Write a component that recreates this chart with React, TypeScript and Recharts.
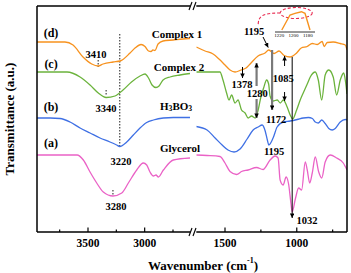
import { LineChart, Line, XAxis, YAxis, ReferenceLine, ReferenceDot } from 'recharts';

const FONT = '"Liberation Serif", "Times New Roman", serif';

const ORANGE = '#f7921e';
const GREEN = '#6bb33c';
const BLUE = '#3f70e4';
const PINK = '#ea62c6';

// [wavenumber cm-1, transmittance a.u. (curves offset)]
const complex1High: [number, number][] = [
  [3950, 190], [3703, 190], [3632, 187], [3544, 175], [3467, 168], [3410, 166], [3367, 168],
  [3279, 170], [3217, 171], [3129, 179], [3085, 184], [3032, 187.5], [2997, 185.5], [2966, 181],
  [2944, 180.5], [2927, 182], [2909, 181.5], [2882, 188], [2838, 191], [2750, 192], [2661, 193], [2600, 193.5],
];
const complex2High: [number, number][] = [
  [3950, 160], [3685, 160], [3570, 155], [3482, 147], [3409, 139], [3340, 134.5], [3262, 136],
  [3191, 142], [3116, 150], [3041, 156], [2997, 158], [2966, 154], [2935, 147], [2900, 144.5],
  [2873, 146], [2838, 152], [2776, 155], [2688, 157], [2600, 158.5],
];
const boricHigh: [number, number][] = [
  [3950, 114], [3835, 114], [3747, 113.5], [3659, 110], [3570, 104], [3482, 99], [3394, 94],
  [3306, 90], [3247, 87], [3220, 85.5], [3158, 90], [3100, 97], [3041, 104], [2982, 109.5],
  [2923, 112], [2835, 114], [2747, 114.5], [2600, 114.5],
];
const glycerolHigh: [number, number][] = [
  [3950, 77], [3597, 77], [3541, 72], [3482, 60], [3423, 49], [3365, 40], [3280, 36], [3202, 39],
  [3144, 49], [3070, 62], [3012, 69], [2982, 67], [2953, 60], [2923, 56], [2900, 57], [2879, 55],
  [2835, 62], [2747, 72], [2600, 74],
];

const complex1Low: [number, number][] = [
  [1700, 185], [1639, 181], [1583, 178], [1542, 173], [1500, 167], [1465, 162], [1430, 160],
  [1388, 162], [1353, 164], [1325, 168], [1270, 176], [1221, 179], [1195, 182], [1158, 178.5],
  [1123, 181], [1088, 176.5], [1046, 175], [1004, 178.5], [969, 184], [927, 185.5], [892, 188.5],
  [857, 187.5], [823, 190.5], [809, 185.5], [788, 189.5], [746, 190], [697, 188.5], [662, 187], [650, 182],
];
const complex2Low: [number, number][] = [
  [1700, 160], [1604, 160], [1535, 160], [1514, 152], [1489, 139], [1472, 132], [1454, 137],
  [1430, 129], [1409, 132], [1385, 122], [1360, 119], [1339, 114], [1315, 116], [1290, 114],
  [1269, 122], [1250, 135], [1231, 144], [1210, 152], [1196, 148], [1186, 136], [1165, 131],
  [1136, 132], [1115, 129], [1094, 132], [1067, 125], [1046, 117], [1029, 113], [1001, 122],
  [976, 132], [955, 139], [927, 148], [906, 155], [871, 160], [850, 152], [826, 132], [802, 157],
  [777, 162], [746, 155], [722, 137], [697, 152], [673, 159], [660, 150], [650, 138],
];
const boricLow: [number, number][] = [
  [1700, 105.5], [1625, 102], [1569, 94], [1520, 87], [1479, 82], [1437, 80], [1395, 83],
  [1346, 93], [1304, 102], [1269, 105], [1241, 107], [1220, 101], [1205, 92], [1195, 87],
  [1165, 94], [1137, 105], [1095, 110], [1046, 111], [997, 112.5], [955, 114], [919, 114.5],
  [891, 113.5], [871, 110], [850, 109], [826, 112], [802, 108.5], [777, 103.5], [753, 102],
  [732, 103.5], [697, 110], [662, 112.5], [650, 112],
];
const glycerolLow: [number, number][] = [
  [1700, 77], [1625, 76.5], [1535, 75.5], [1500, 69], [1465, 60.5], [1419, 57.5], [1385, 60.5],
  [1339, 62], [1280, 64.5], [1235, 62.5], [1186, 72], [1151, 76], [1130, 74], [1116, 52],
  [1095, 47], [1074, 55], [1057, 48], [1040, 28], [1032, 20], [1010, 33], [987, 44], [966, 42],
  [941, 70], [927, 62], [910, 49], [892, 59], [871, 75], [847, 60], [826, 54], [802, 70],
  [767, 77], [722, 74], [676, 69], [650, 62],
];

// zoomed view of the 1195 band of complex 1
const complex1Inset: [number, number][] = [
  [1216.5, 2], [1205, 17], [1198, 18.7], [1189, 20.3], [1184, 18.7], [1177, 2],
];

const leftTicks = [3750, 3500, 3250, 3000, 2750];
const rightTicks = [1500, 1250, 1000, 750];
const insetTicks = [1220, 1200, 1180];

const curveLabels = [
  { text: '(d)', w: 3826, t: 199 },
  { text: '(c)', w: 3826, t: 168 },
  { text: '(b)', w: 3826, t: 125 },
  { text: '(a)', w: 3826, t: 89 },
  { text: 'Complex 1', w: 2715, t: 198 },
  { text: 'Complex 2', w: 2697, t: 165 },
  { text: 'H3BO3', w: 2723, t: 126 },
  { text: 'Glycerol', w: 2688, t: 84 },
];
const highPeaks = [
  { text: '3410', w: 3429, t: 178 },
  { text: '3340', w: 3341, t: 124 },
  { text: '3220', w: 3209, t: 71 },
  { text: '3280', w: 3253, t: 26 },
];
const lowPeaks = [
  { text: '1195', w: 1297, t: 201 },
  { text: '1378', w: 1381, t: 148 },
  { text: '1280', w: 1276, t: 139 },
  { text: '1085', w: 1095, t: 154 },
  { text: '1172', w: 1144, t: 113 },
  { text: '1195', w: 1158, t: 81 },
  { text: '1032', w: 928, t: 12 },
];
const guides = [
  { w: 3410, from: 172, to: 165 },
  { w: 3340, from: 142, to: 136 },
  { w: 3220, from: 198, to: 86 },
  { w: 3280, from: 42, to: 36 },
];
const arrows = [
  { w1: 1032, t1: 175, w2: 1032, t2: 14, heavy: false },
  { w1: 1085, t1: 166, w2: 1085, t2: 176, heavy: false },
  { w1: 1085, t1: 140, w2: 1085, t2: 131, heavy: false },
  { w1: 1378, t1: 165, w2: 1378, t2: 154, heavy: false },
  { w1: 1235, t1: 195, w2: 1199, t2: 184.5, heavy: false },
  { w1: 1280, t1: 146, w2: 1280, t2: 169, heavy: true },
  { w1: 1280, t1: 133, w2: 1280, t2: 114, heavy: true },
  { w1: 1172, t1: 182, w2: 1172, t2: 122, heavy: true },
];

const rows = (pts: [number, number][]) => pts.map(([w, t]) => ({ w, t }));

const textStyle = { fontFamily: FONT, fontWeight: 'bold' as const, fill: '#000' };

function AxisTick(props: any) {
  const { x, y, payload } = props;
  const major = payload.value % 500 === 0;
  return (
    <g>
      <line x1={x} x2={x} y1={y} y2={y - (major ? 4.5 : 2.5)} stroke="#000" strokeWidth={1.2} />
      {major && (
        <text x={x} y={y + 15} textAnchor="middle" fontSize={11.5} {...textStyle}>
          {payload.value}
        </text>
      )}
    </g>
  );
}

function labelShape(text: string, size: number) {
  return (p: any) => {
    if (text === 'H3BO3') {
      return (
        <text x={p.cx} y={p.cy} textAnchor="middle" dominantBaseline="central" fontSize={size} {...textStyle}>
          H<tspan dy={2} fontSize={size * 0.7}>3</tspan>
          <tspan dy={-2}>BO</tspan>
          <tspan dy={2} fontSize={size * 0.7}>3</tspan>
        </text>
      );
    }
    return (
      <text x={p.cx} y={p.cy} textAnchor="middle" dominantBaseline="central" fontSize={size} {...textStyle}>
        {text}
      </text>
    );
  };
}

const breakShape = (p: any) => (
  <g stroke="#000" strokeWidth={1.1}>
    <line x1={p.cx - 1} y1={p.cy + 4} x2={p.cx + 2} y2={p.cy - 4} />
    <line x1={p.cx + 3} y1={p.cy + 4} x2={p.cx + 6} y2={p.cy - 4} />
  </g>
);

const zoomMarkShape = (p: any) => (
  <g fill="none" stroke="#e8294f" strokeWidth={1.1} strokeDasharray="3 2">
    <ellipse cx={p.cx} cy={p.cy} rx={16} ry={5.5} />
    <path d={`M ${p.cx - 16} ${p.cy} C ${p.cx - 32} ${p.cy}, ${p.cx - 38} ${p.cy + 2}, ${p.cx - 38} ${p.cy + 12}`} />
  </g>
);

const xTitleShape = (p: any) => (
  <text x={p.cx} y={p.cy} textAnchor="middle" dominantBaseline="central" fontSize={13} {...textStyle}>
    Wavenumber (cm<tspan dy={-5} fontSize={8}>-1</tspan>
    <tspan dy={5}>)</tspan>
  </text>
);

const lineProps = { type: 'monotone' as const, dataKey: 't', dot: false, strokeWidth: 1.3, isAnimationActive: false };

export default function App() {
  return (
    <div style={{ position: 'absolute', left: 0, top: 0, width: 351, height: 273, background: '#fff' }}>
      <div style={{ position: 'absolute', left: 0, top: 0 }}>
        <LineChart width={351} height={273} margin={{ top: 6, right: 161, bottom: 11, left: 0 }}>
          <XAxis
            dataKey="w"
            type="number"
            domain={[2600, 3950]}
            reversed
            allowDataOverflow
            ticks={leftTicks}
            interval={0}
            height={30}
            tickSize={0}
            tickMargin={0}
            tickLine={false}
            tick={(p: any) => <AxisTick {...p} />}
            axisLine={{ stroke: '#000', strokeWidth: 1.5 }}
          />
          <YAxis
            type="number"
            domain={[0, 226]}
            width={37}
            tick={false}
            tickLine={false}
            axisLine={{ stroke: '#000', strokeWidth: 1.5 }}
            label={{
              value: 'Transmittance (a.u.)',
              angle: -90,
              position: 'insideLeft',
              offset: 9,
              style: { textAnchor: 'middle', fontFamily: FONT, fontWeight: 'bold', fontSize: 13, fill: '#000' },
            }}
          />
          <ReferenceLine y={226} stroke="#000" strokeWidth={1.5} />
          {guides.map((g, i) => (
            <ReferenceLine
              key={`g${i}`}
              segment={[{ x: g.w, y: g.from }, { x: g.w, y: g.to }]}
              stroke="#444"
              strokeWidth={1.2}
              strokeDasharray="1.5 1.5"
            />
          ))}
          <Line {...lineProps} data={rows(complex1High)} stroke={ORANGE} />
          <Line {...lineProps} data={rows(complex2High)} stroke={GREEN} />
          <Line {...lineProps} data={rows(boricHigh)} stroke={BLUE} />
          <Line {...lineProps} data={rows(glycerolHigh)} stroke={PINK} />
          {curveLabels.map((l, i) => (
            <ReferenceDot key={`c${i}`} x={l.w} y={l.t} r={1} ifOverflow="visible" shape={labelShape(l.text, l.text.startsWith('(') ? 12 : 11)} />
          ))}
          {highPeaks.map((l, i) => (
            <ReferenceDot key={`h${i}`} x={l.w} y={l.t} r={1} ifOverflow="visible" shape={labelShape(l.text, 10.5)} />
          ))}
          <ReferenceDot x={2600} y={0} r={1} ifOverflow="visible" shape={breakShape} />
          <ReferenceDot x={2600} y={226} r={1} ifOverflow="visible" shape={breakShape} />
        </LineChart>
      </div>

      <div style={{ position: 'absolute', left: 0, top: 0 }}>
        <LineChart width={351} height={273} margin={{ top: 6, right: 0, bottom: 11, left: 196.3 }}>
          <defs>
            <marker id="arrowHead" viewBox="0 0 10 10" refX={10} refY={5} markerWidth={5} markerHeight={4.5} markerUnits="userSpaceOnUse" orient="auto">
              <path d="M0,0 L10,5 L0,10 z" fill="#000" />
            </marker>
          </defs>
          <XAxis
            dataKey="w"
            type="number"
            domain={[650, 1700]}
            reversed
            allowDataOverflow
            ticks={rightTicks}
            interval={0}
            height={30}
            tickSize={0}
            tickMargin={0}
            tickLine={false}
            tick={(p: any) => <AxisTick {...p} />}
            axisLine={{ stroke: '#000', strokeWidth: 1.5 }}
          />
          <YAxis
            type="number"
            orientation="right"
            domain={[0, 226]}
            width={4}
            tick={false}
            tickLine={false}
            axisLine={{ stroke: '#000', strokeWidth: 1.5 }}
          />
          <ReferenceLine y={226} stroke="#000" strokeWidth={1.5} />
          <Line {...lineProps} data={rows(complex1Low)} stroke={ORANGE} />
          <Line {...lineProps} data={rows(complex2Low)} stroke={GREEN} />
          <Line {...lineProps} data={rows(boricLow)} stroke={BLUE} />
          <Line {...lineProps} data={rows(glycerolLow)} stroke={PINK} />
          {arrows.map((a, i) => (
            <ReferenceLine
              key={`a${i}`}
              segment={[{ x: a.w1, y: a.t1 }, { x: a.w2, y: a.t2 }]}
              stroke={a.heavy ? '#7a7a7a' : '#000'}
              strokeWidth={a.heavy ? 2.2 : 1}
              markerEnd="url(#arrowHead)"
            />
          ))}
          {lowPeaks.map((l, i) => (
            <ReferenceDot key={`l${i}`} x={l.w} y={l.t} r={1} ifOverflow="visible" shape={labelShape(l.text, 10.5)} />
          ))}
          <ReferenceDot x={1004} y={219} r={1} ifOverflow="visible" shape={zoomMarkShape} />
          <ReferenceDot x={1653} y={-33} r={1} ifOverflow="visible" shape={xTitleShape} />
        </LineChart>
      </div>

      <div style={{ position: 'absolute', left: 273, top: 0 }}>
        <LineChart width={44} height={40} margin={{ top: 6, right: 2, bottom: 0, left: 2 }}>
          <XAxis
            dataKey="w"
            type="number"
            domain={[1170, 1226]}
            reversed
            allowDataOverflow
            ticks={insetTicks}
            interval={0}
            height={8}
            tickSize={0}
            tickMargin={1}
            tickLine={false}
            tick={{ fontSize: 5, fontFamily: FONT, fill: '#000' }}
            axisLine={{ stroke: '#000', strokeWidth: 0.8 }}
          />
          <YAxis type="number" domain={[0, 26]} hide />
          <Line type="linear" dataKey="t" data={rows(complex1Inset)} stroke={ORANGE} strokeWidth={1.4} dot={false} isAnimationActive={false} />
        </LineChart>
      </div>
    </div>
  );
}
